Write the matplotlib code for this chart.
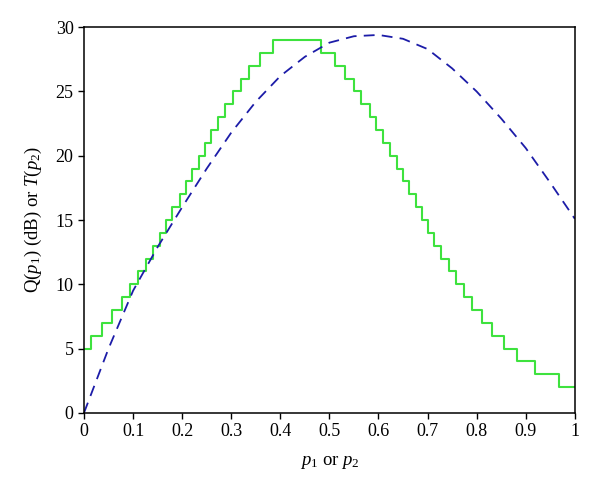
import matplotlib
matplotlib.use("Agg")
import matplotlib.pyplot as plt

# Step function Q(p1): jump positions and levels
step_x = [0.0, 0.014, 0.037, 0.058, 0.077, 0.094, 0.111, 0.126, 0.140, 0.154,
          0.167, 0.180, 0.195, 0.208, 0.221, 0.235, 0.247, 0.259, 0.273, 0.288,
          0.303, 0.320, 0.337, 0.358, 0.386, 0.482, 0.512, 0.531, 0.550, 0.565,
          0.582, 0.595, 0.609, 0.623, 0.637, 0.650, 0.662, 0.676, 0.689, 0.701,
          0.713, 0.728, 0.744, 0.757, 0.774, 0.791, 0.810, 0.831, 0.856, 0.883,
          0.919, 0.967, 1.0]
step_y = [5, 6, 7, 8, 9, 10, 11, 12, 13, 14,
          15, 16, 17, 18, 19, 20, 21, 22, 23, 24,
          25, 26, 27, 28, 29, 28, 27, 26, 25, 24,
          23, 22, 21, 20, 19, 18, 17, 16, 15, 14,
          13, 12, 11, 10, 9, 8, 7, 6, 5, 4,
          3, 2, 2]

# Dashed curve T(p2)
curve_x = [0.0, 0.05, 0.1, 0.15, 0.2, 0.25, 0.3, 0.35, 0.4, 0.45, 0.5,
           0.55, 0.6, 0.65, 0.7, 0.75, 0.8, 0.85, 0.9, 0.95, 1.0]
curve_y = [0.0, 5.0, 9.5, 12.9, 16.0, 19.0, 21.8, 24.2, 26.2, 27.7, 28.8,
           29.3, 29.4, 29.1, 28.3, 26.8, 25.0, 22.9, 20.6, 17.9, 15.1]

xticks = [0, 0.1, 0.2, 0.3, 0.4, 0.5, 0.6, 0.7, 0.8, 0.9, 1]
xticklabels = ["0", "0.1", "0.2", "0.3", "0.4", "0.5", "0.6", "0.7", "0.8", "0.9", "1"]
yticks = [0, 5, 10, 15, 20, 25, 30]

plt.rcParams['font.family'] = ['Liberation Serif', 'DejaVu Serif']
plt.rcParams['mathtext.fontset'] = 'custom'
plt.rcParams['mathtext.rm'] = 'Liberation Serif'
plt.rcParams['mathtext.it'] = 'Liberation Serif:italic'

fig = plt.figure(figsize=(6.0, 4.95), dpi=100)
ax = fig.add_axes([0.14, 0.166, 0.818, 0.779])

ax.plot(step_x, step_y, drawstyle='steps-post', color='#3ee23e', lw=1.5)
ax.plot(curve_x, curve_y, color='#1c1ca8', lw=1.3, dashes=(6, 4))

ax.set_xlim(0, 1)
ax.set_ylim(0, 30)
ax.set_xticks(xticks)
ax.set_xticklabels(xticklabels)
ax.set_yticks(yticks)
ax.tick_params(direction='out', length=4, width=1, labelsize=13, colors='black')
for s in ax.spines.values():
    s.set_linewidth(1.1)

ax.set_xlabel(r'$p_1$ or $p_2$', fontsize=13.5, labelpad=10)
ax.set_ylabel(r'Q($p_1$) (dB) or $T$($p_2$)', fontsize=13.5, labelpad=8)

fig.savefig('out.png', dpi=100)
